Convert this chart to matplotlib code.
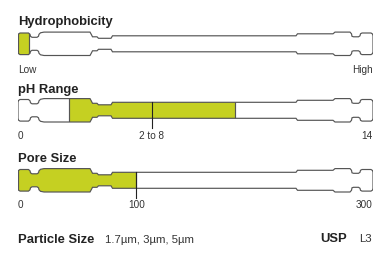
import matplotlib
matplotlib.use("Agg")
from matplotlib import pyplot as plt
from matplotlib.path import Path
from matplotlib.patches import PathPatch, Rectangle
from matplotlib import transforms

plt.rcParams["font.family"] = ["Liberation Sans", "DejaVu Sans"]

# chart data
row_titles = ["Hydrophobicity", "pH Range", "Pore Size"]
row_limits = [(0, 1), (0, 14), (0, 300)]
row_fills = [(0, 0.03), (2, 8.55), (0, 100)]
end_labels = [("Low", "High"), ("0", "14"), ("0", "300")]
mid_labels = [None, "2 to 8", "100"]
mid_ticks = [None, 5.27, 100]
particle_sizes = ["1.7µm", "3µm", "5µm"]
usp_code = "L3"

FILL = "#c5d022"
EDGE = "#555555"
W, H = 390, 265
TUBE_LEFT, TUBE_LEN = 18, 355
row_centers = [43.8, 110.3, 180.3]

# column outline: (offset along tube in px, half height in px)
profile = [(0, 8.0), (0.5, 9.8), (2, 10.8), (10.5, 10.8), (12, 9.5), (12.5, 7.5),
           (14, 6.5), (19, 6.5), (20.5, 7.5), (21, 9.5), (22.5, 11.0), (26, 11.7),
           (72, 11.7), (73.5, 9.0), (74.5, 7.0), (79, 7.0), (80.5, 5.5), (93, 5.5),
           (94.5, 8.0), (278, 8.0), (279.5, 10.0), (315, 10.0), (317, 11.7),
           (332, 11.7), (333.5, 10.0), (334, 7.5), (335.5, 7.0), (340.5, 7.0),
           (342, 8.0), (342.5, 10.0), (344, 10.8), (353, 10.8), (354.5, 9.8),
           (355, 8.0)]


def tube_path():
    top = [(x / TUBE_LEN, h) for x, h in profile]
    bottom = [(x / TUBE_LEN, -h) for x, h in reversed(profile)]
    verts = top + bottom + [top[0]]
    codes = [Path.MOVETO] + [Path.LINETO] * (len(verts) - 2) + [Path.CLOSEPOLY]
    return Path(verts, codes)


def fig_text(x, y, s, **kw):
    fig.text(x / W, 1 - y / H, s, va="baseline", **kw)


fig = plt.figure(figsize=(W / 100, H / 100), dpi=100)

for i, title in enumerate(row_titles):
    c = row_centers[i]
    ax = fig.add_axes([TUBE_LEFT / W, 1 - (c + 30) / H, TUBE_LEN / W, 60 / H])
    ax.set_xlim(*row_limits[i])
    ax.set_ylim(-30, 30)
    ax.axis("off")

    blend = transforms.blended_transform_factory(ax.transAxes, ax.transData)
    outline = PathPatch(tube_path(), transform=blend, facecolor="none",
                        edgecolor=EDGE, lw=0.85, zorder=3)
    ax.add_patch(outline)

    lo, hi = row_fills[i]
    fill = Rectangle((lo, -20), hi - lo, 40, facecolor=FILL, edgecolor=EDGE,
                     lw=0.85, zorder=2)
    ax.add_patch(fill)
    fill.set_clip_path(outline)

    left_lab, right_lab = end_labels[i]
    lab_y = [-29.0, -28.5, -28.2][i]
    ax.text(row_limits[i][0], lab_y, left_lab, ha="left", va="baseline",
            fontsize=7.2, color="#333333", clip_on=False)
    ax.text(row_limits[i][1], lab_y, right_lab, ha="right", va="baseline",
            fontsize=7.2, color="#333333", clip_on=False)

    if mid_labels[i]:
        mid = mid_ticks[i]
        ax.plot([mid, mid], [8, -17.5], color="#222222", lw=0.8, zorder=4,
                clip_on=False)
        ax.text(mid, lab_y, mid_labels[i], ha="center", va="baseline",
                fontsize=7.2, color="#333333", clip_on=False)

    title_y = c - 19.3 if i == 0 else c - 17.8
    fig_text(18, title_y, title, fontsize=9.4, fontweight="bold", color="#222222")

fig_text(18, 243, "Particle Size", fontsize=9.4, fontweight="bold", color="#222222")
fig_text(105, 243, ", ".join(particle_sizes), fontsize=8.2, color="#333333")
fig_text(347, 242, "USP", fontsize=9.4, fontweight="bold", color="#222222",
         ha="right")
fig_text(372, 242, usp_code, fontsize=8.2, color="#333333", ha="right")

fig.savefig("out.png", dpi=100)
